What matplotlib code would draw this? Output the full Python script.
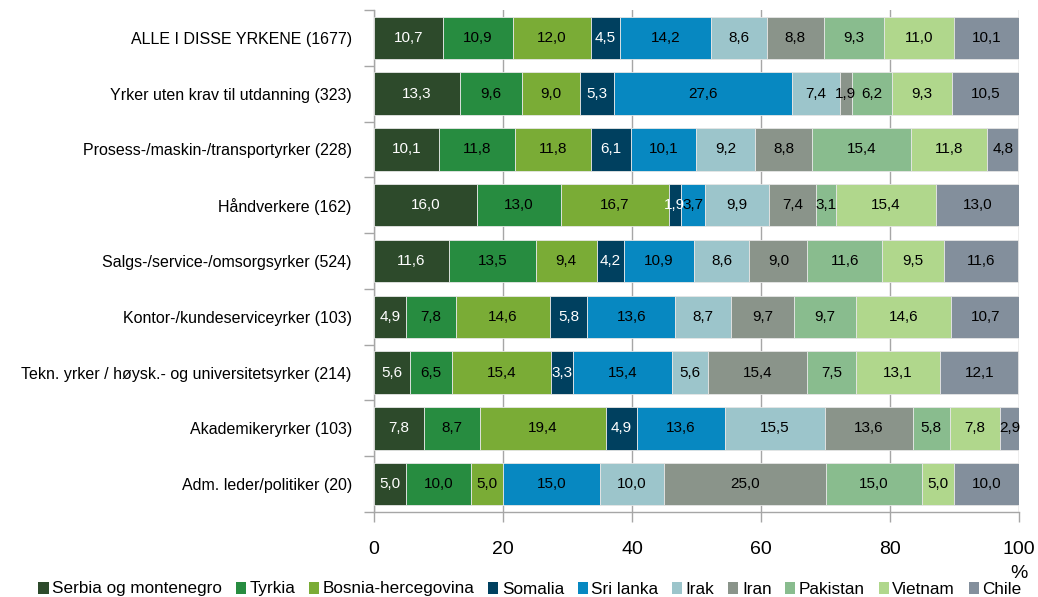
import numpy as np
import matplotlib.pyplot as plt
from matplotlib.patches import Patch

categories = [
    "ALLE I DISSE YRKENE (1677)",
    "Yrker uten krav til utdanning (323)",
    "Prosess-/maskin-/transportyrker (228)",
    "Håndverkere (162)",
    "Salgs-/service-/omsorgsyrker (524)",
    "Kontor-/kundeserviceyrker (103)",
    "Tekn. yrker / høysk.- og universitetsyrker (214)",
    "Akademikeryrker (103)",
    "Adm. leder/politiker (20)",
]
countries = ["Serbia og montenegro", "Tyrkia", "Bosnia-hercegovina", "Somalia",
             "Sri lanka", "Irak", "Iran", "Pakistan", "Vietnam", "Chile"]

serbia = [10.7, 13.3, 10.1, 16.0, 11.6, 4.9, 5.6, 7.8, 5.0]
tyrkia = [10.9, 9.6, 11.8, 13.0, 13.5, 7.8, 6.5, 8.7, 10.0]
bosnia = [12.0, 9.0, 11.8, 16.7, 9.4, 14.6, 15.4, 19.4, 5.0]
somalia = [4.5, 5.3, 6.1, 1.9, 4.2, 5.8, 3.3, 4.9, 0.0]
srilanka = [14.2, 27.6, 10.1, 3.7, 10.9, 13.6, 15.4, 13.6, 15.0]
irak = [8.6, 7.4, 9.2, 9.9, 8.6, 8.7, 5.6, 15.5, 10.0]
iran = [8.8, 1.9, 8.8, 7.4, 9.0, 9.7, 15.4, 13.6, 25.0]
pakistan = [9.3, 6.2, 15.4, 3.1, 11.6, 9.7, 7.5, 5.8, 15.0]
vietnam = [11.0, 9.3, 11.8, 15.4, 9.5, 14.6, 13.1, 7.8, 5.0]
chile = [10.1, 10.5, 4.8, 13.0, 11.6, 10.7, 12.1, 2.9, 10.0]

series = [serbia, tyrkia, bosnia, somalia, srilanka, irak, iran, pakistan, vietnam, chile]
colors = ["#2d4a2b", "#278c40", "#7aac36", "#00405f", "#0788c1",
          "#9cc5cb", "#8a948a", "#89bc8e", "#b0d78c", "#838f9c"]
text_colors = ["white", "black", "black", "white", "black",
               "black", "black", "black", "black", "black"]

# Arial Narrow look-alike if present, otherwise Arial metrics
narrow = ["Liberation Sans Narrow", "Liberation Sans", "DejaVu Sans"]
regular = ["Liberation Sans", "DejaVu Sans"]

fig = plt.figure(figsize=(10.38, 5.97), dpi=100)
ax = fig.add_axes([374 / 1038, 1 - 512 / 597, 645 / 1038, 502 / 597])

y = np.arange(len(categories))
left = np.zeros(len(categories))
for vals, col, tcol in zip(series, colors, text_colors):
    vals = np.array(vals)
    ax.barh(y, vals, left=left, height=0.76, color=col,
            edgecolor="#e6e6e6", linewidth=0.6, zorder=3)
    for yi, (l, v) in enumerate(zip(left, vals)):
        if v > 0:
            ax.text(l + v / 2, yi, f"{v:.1f}".replace(".", ","),
                    ha="center", va="center", color=tcol,
                    fontsize=11, family=narrow, zorder=4)
    left += vals

ax.set_xlim(0, 100)
ax.set_ylim(len(categories) - 0.5, -0.5)

# vertical grid
ax.set_xticks([0, 20, 40, 60, 80, 100])
ax.set_xticklabels(["0", "20", "40", "60", "80", "100"], family=narrow, fontsize=14)
ax.xaxis.grid(True, color="#a6a6a6", linewidth=1.0, zorder=0)
ax.tick_params(axis="x", length=7, width=1, color="#a6a6a6", pad=14)

# category ticks at band boundaries, labels at centers
ax.set_yticks(np.arange(-0.5, len(categories), 1.0))
ax.set_yticklabels([])
ax.set_yticks(y, minor=True)
ax.set_yticklabels(categories, minor=True, family=regular, fontsize=11.5)
ax.tick_params(axis="y", which="major", length=7, width=1, color="#a6a6a6")
ax.tick_params(axis="y", which="minor", length=0, pad=16)

for s in ["top", "right"]:
    ax.spines[s].set_visible(False)
for s in ["left", "bottom"]:
    ax.spines[s].set_color("#a6a6a6")
    ax.spines[s].set_linewidth(1.0)

fig.text(1019 / 1038, 1 - 573 / 597, "%", ha="center", va="center",
         family=narrow, fontsize=14)

handles = [Patch(facecolor=c, edgecolor="none") for c in colors]
fig.legend(handles, countries, loc="center", ncol=10,
           bbox_to_anchor=(530 / 1038, 1 - 589 / 597), frameon=False,
           prop={"family": narrow, "size": 12.3}, handlelength=0.6,
           handleheight=0.7, handletextpad=0.2, columnspacing=0.8,
           borderpad=0, borderaxespad=0)

fig.savefig("out.png", dpi=100)
